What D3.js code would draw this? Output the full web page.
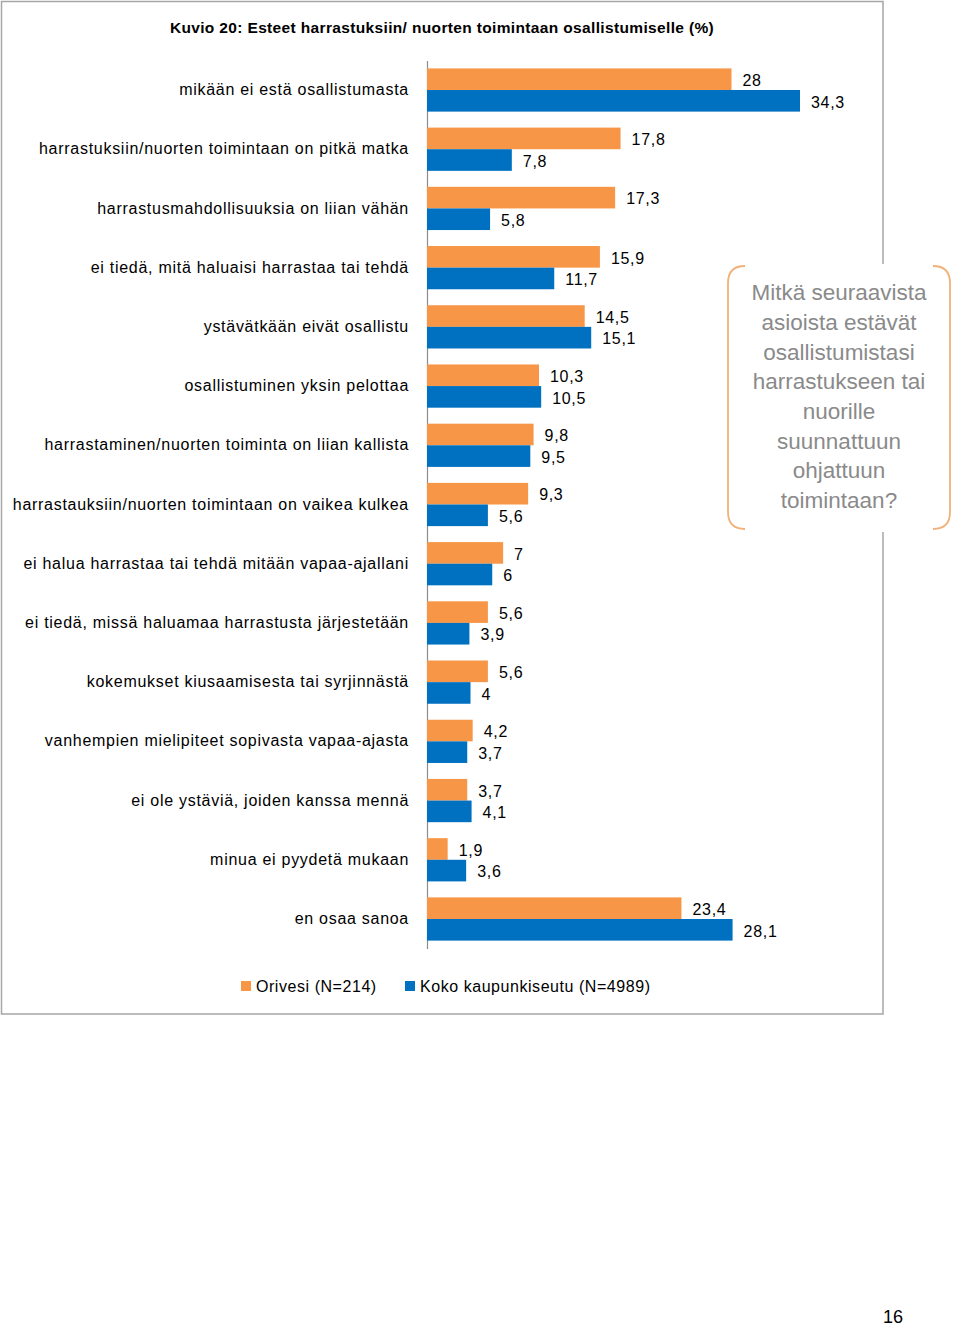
<!DOCTYPE html>
<html><head><meta charset="utf-8">
<script src="https://cdn.jsdelivr.net/npm/d3@7"></script>
<style>body{margin:0;background:#fff}svg{display:block}text{font-family:"Liberation Sans",Arial,sans-serif}</style>
</head><body>
<svg id="c" width="960" height="1327"></svg>
<script>
const categories = [
 "mikään ei estä osallistumasta",
 "harrastuksiin/nuorten toimintaan on pitkä matka",
 "harrastusmahdollisuuksia on liian vähän",
 "ei tiedä, mitä haluaisi harrastaa tai tehdä",
 "ystävätkään eivät osallistu",
 "osallistuminen yksin pelottaa",
 "harrastaminen/nuorten toiminta on liian kallista",
 "harrastauksiin/nuorten toimintaan on vaikea kulkea",
 "ei halua harrastaa tai tehdä mitään vapaa-ajallani",
 "ei tiedä, missä haluamaa harrastusta järjestetään",
 "kokemukset kiusaamisesta tai syrjinnästä",
 "vanhempien mielipiteet sopivasta vapaa-ajasta",
 "ei ole ystäviä, joiden kanssa mennä",
 "minua ei pyydetä mukaan",
 "en osaa sanoa"
];
const orivesi = [28,17.8,17.3,15.9,14.5,10.3,9.8,9.3,7,5.6,5.6,4.2,3.7,1.9,23.4];
const koko = [34.3,7.8,5.8,11.7,15.1,10.5,9.5,5.6,6,3.9,4,3.7,4.1,3.6,28.1];
const seriesNames = ["Orivesi (N=214)","Koko kaupunkiseutu (N=4989)"];
const title = "Kuvio 20: Esteet harrastuksiin/ nuorten toimintaan osallistumiselle (%)";
const calloutLines = ["Mitkä seuraavista","asioista estävät","osallistumistasi","harrastukseen tai","nuorille","suunnattuun","ohjattuun","toimintaan?"];
const pageNumber = "16";

const colors = ["#F79646","#0070C0"];
const svg = d3.select("#c");
const fmt = v => String(v).replace(".", ",");

// frame
svg.append("rect").attr("x",1.5).attr("y",1.5).attr("width",881.5).attr("height",1012.5)
  .attr("fill","#fff").attr("stroke","#a6a6a6").attr("stroke-width",1.5);

svg.append("text").attr("x",442).attr("y",33).attr("text-anchor","middle")
  .attr("font-size",15.5).attr("font-weight","bold").attr("letter-spacing",0.35).text(title);

const x = d3.scaleLinear().domain([0,34.3]).range([427,800]);
const y = d3.scaleBand().domain(categories).range([60.4,948.6]).paddingInner(0.27).paddingOuter(0.135);
const ys = d3.scaleBand().domain([0,1]).range([0,y.bandwidth()]);

const yAxisScale = d3.scaleBand().domain(categories).range([60.4,948.6]);
const ax = svg.append("g").attr("transform","translate(427,0)")
  .call(d3.axisLeft(yAxisScale).tickSize(0).tickPadding(18));
ax.select(".domain").attr("stroke","#8c8c8c").attr("stroke-width",1.2);
ax.selectAll("text").attr("font-size",16).attr("letter-spacing",0.72).attr("fill","#000")
  .attr("font-family","Liberation Sans, Arial, sans-serif");

const data = categories.map((c,i)=>({c, vals:[orivesi[i],koko[i]]}));
const g = svg.append("g");
data.forEach(d=>{
  d.vals.forEach((v,s)=>{
    const yy = y(d.c)+ys(s);
    g.append("rect").attr("x",x(0)).attr("y",yy).attr("width",x(v)-x(0)).attr("height",ys.bandwidth()).attr("fill",colors[s]);
    g.append("text").attr("x",x(v)+11).attr("y",yy+ys.bandwidth()/2+1).attr("dy","0.36em")
      .attr("font-size",16).attr("letter-spacing",0.7).attr("fill","#000").text(fmt(v));
  });
});

// legend
const leg = [{x:241},{x:405}];
seriesNames.forEach((n,i)=>{
  svg.append("rect").attr("x",leg[i].x).attr("y",981).attr("width",10).attr("height",10).attr("fill",colors[i]);
  svg.append("text").attr("x",leg[i].x+15).attr("y",992).attr("font-size",16).attr("letter-spacing",0.55).attr("fill","#000").text(n);
});

// callout
const cg = svg.append("g");
cg.append("rect").attr("x",728).attr("y",264).attr("width",224).attr("height",268).attr("fill","#fff");
const bc = "#F0B27A";
cg.append("path").attr("d","M745,266 Q728,266 728,283 L728,512 Q728,529 745,529")
  .attr("fill","none").attr("stroke",bc).attr("stroke-width",1.8);
cg.append("path").attr("d","M933,266 Q950,266 950,283 L950,512 Q950,529 933,529")
  .attr("fill","none").attr("stroke",bc).attr("stroke-width",1.8);
calloutLines.forEach((t,i)=>{
  cg.append("text").attr("x",839).attr("y",292+i*29.7).attr("dy","0.36em").attr("text-anchor","middle")
    .attr("font-size",22.5).attr("fill","#8a8a8a").text(t);
});

svg.append("text").attr("x",893).attr("y",1323).attr("text-anchor","middle").attr("font-size",18).attr("fill","#000").text(pageNumber);
</script>
</body></html>
